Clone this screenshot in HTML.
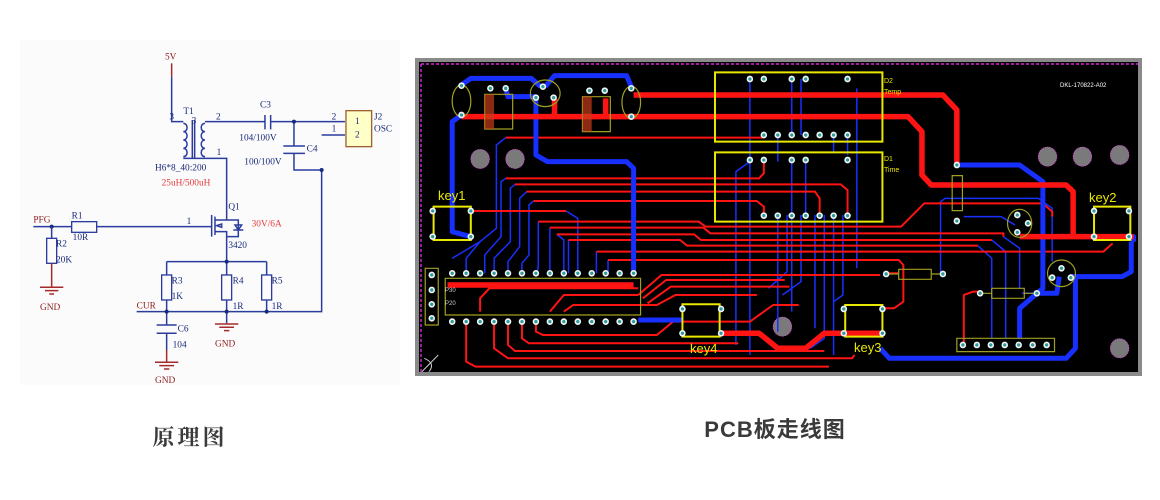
<!DOCTYPE html>
<html><head><meta charset="utf-8"><style>
html,body{margin:0;padding:0;background:#fff;width:1160px;height:500px;overflow:hidden}
svg{display:block}
.w{fill:none;stroke:#2b3c9e;stroke-width:4.5}
.r{fill:none;stroke:#a52a2a;stroke-width:4.5}
.st text{font-family:"Liberation Serif",serif;font-size:28px;fill:#1a2a7a}
.lb{fill:#8b1a1a!important}
.rd{fill:#e83a3a!important}
.pc *{vector-effect:non-scaling-stroke}
.R{fill:none;stroke:#ff1414;stroke-width:2}
.RT{fill:none;stroke:#ff1414;stroke-width:5.5;stroke-linejoin:round}
.B{fill:none;stroke:#1830ff;stroke-width:1.5}
.BT{fill:none;stroke:#1830ff;stroke-width:5;stroke-linejoin:round}
.Y{fill:none;stroke:#e8e800;stroke-width:2}
.YT{fill:none;stroke:#a0a020;stroke-width:1.2}
.pt text{font-family:"Liberation Sans",sans-serif;fill:#e8e800}
</style></head><body>
<svg width="1160" height="500" viewBox="0 0 1160 500" xmlns="http://www.w3.org/2000/svg">
<defs>
<g id="p"><ellipse cx="0" cy="0" rx="7" ry="10" fill="#f0f4f4"/><ellipse cx="0" cy="0" rx="3.5" ry="5" fill="#2a9a9a"/></g>
<g id="h"><ellipse cx="0" cy="0" rx="20" ry="29" fill="#7a7a7a" stroke="#ff40ff" stroke-width="1.5" stroke-dasharray="3 2"/></g>
</defs>
<rect x="20" y="40" width="380" height="345" fill="#fbfbfb"/>
<!-- schematic -->
<g class="st" transform="translate(20,40) scale(0.3333)">
<path class="r" d="M455 70V110"/>
<path class="w" d="M455 110V245H490"/>
<path class="w" d="M490 250c15 0 15 25 0 25c15 0 15 25 0 25c15 0 15 25 0 25c15 0 15 25 0 25"/>
<path class="w" d="M555 250c-15 0 -15 25 0 25c-15 0 -15 25 0 25c-15 0 -15 25 0 25c-15 0 -15 25 0 25"/>
<path class="w" d="M517 240V355M524 240V355M490 355H620V525M555 245H735M752 245H975M735 225V268M752 225V268M822 245V318M790 318H855M790 340H855M822 340V390H905M905 285H975M905 390V815H440M620 590V665M440 665H740M440 665V705M620 665V705M740 665V705M440 780V815M620 780V850M740 780V815M350 815H440M440 815V855M410 855H470M410 880H470M440 880V930"/>
<path class="w" d="M40 560H155M230 560H575M575 525V590M585 530V585M585 540H620V525M585 575H620V590M620 540H655V590H620M645 555L655 570L665 555ZM640 570H670M590 557L605 552V562Z"/>
<circle cx="822" cy="245" r="6" fill="#1a2a7a"/><circle cx="905" cy="390" r="6" fill="#1a2a7a"/><circle cx="95" cy="560" r="6" fill="#1a2a7a"/><circle cx="620" cy="665" r="6" fill="#1a2a7a"/><circle cx="440" cy="815" r="6" fill="#1a2a7a"/><circle cx="620" cy="815" r="6" fill="#1a2a7a"/><circle cx="740" cy="815" r="6" fill="#1a2a7a"/>
<rect x="155" y="545" width="75" height="32" fill="none" stroke="#2b3c9e" stroke-width="4"/>
<rect x="80" y="595" width="30" height="75" fill="none" stroke="#2b3c9e" stroke-width="4"/>
<rect x="425" y="705" width="30" height="75" fill="none" stroke="#2b3c9e" stroke-width="4"/>
<rect x="605" y="705" width="30" height="75" fill="none" stroke="#2b3c9e" stroke-width="4"/>
<rect x="725" y="705" width="30" height="75" fill="none" stroke="#2b3c9e" stroke-width="4"/>
<path class="w" d="M95 560V595"/>
<path class="r" d="M95 670V740M60 742H130M75 752H115M88 762H102M620 850V852M585 852H655M598 862H642M612 872H628M440 930V965M405 967H475M418 977H462M432 987H448"/>
<rect x="978" y="212" width="77" height="108" fill="#ffffc8" stroke="#a06030" stroke-width="4"/>
<text x="435" y="58" class="lb">5V</text>
<text x="448" y="238">3</text><text x="490" y="222">T1</text><text x="515" y="250">3</text><text x="588" y="238">2</text><text x="590" y="345">1</text>
<text x="720" y="202">C3</text><text x="658" y="302">104/100V</text><text x="860" y="335">C4</text><text x="673" y="374">100/100V</text>
<text x="935" y="238">2</text><text x="935" y="275">1</text><text x="1005" y="252">1</text><text x="1005" y="292">2</text><text x="1062" y="238">J2</text><text x="1062" y="275">OSC</text>
<text x="405" y="392">H6*8_40:200</text><text x="425" y="437" class="rd">25uH/500uH</text>
<text x="40" y="548" class="lb">PFG</text><text x="155" y="535">R1</text><text x="158" y="600">10R</text><text x="108" y="620">R2</text><text x="108" y="667">20K</text>
<text x="500" y="552">1</text><text x="625" y="508">Q1</text><text x="695" y="560" class="rd">30V/6A</text><text x="625" y="624">3420</text>
<text x="455" y="730">R3</text><text x="455" y="777">1K</text><text x="638" y="730">R4</text><text x="638" y="807">1R</text><text x="755" y="730">R5</text><text x="755" y="807">1R</text>
<text x="350" y="805" class="lb">CUR</text><text x="473" y="875">C6</text><text x="458" y="922">104</text>
<text x="60" y="810" class="lb">GND</text><text x="585" y="920" class="lb">GND</text><text x="405" y="1029" class="lb">GND</text>
</g>
<!-- PCB -->
<rect x="415" y="58" width="727" height="318" fill="#8a8a8a"/>
<rect x="419" y="62" width="719" height="310" fill="#000"/>
<path d="M421 64V372M421 64H1138" stroke="#ff30ff" stroke-width="1.2" stroke-dasharray="3 2" fill="none"/>
<g class="pc" transform="translate(415,55) scale(0.4651,0.3333)">
<use href="#h" x="140" y="312"/><use href="#h" x="215" y="312"/><use href="#h" x="1360" y="305"/><use href="#h" x="1435" y="305"/><use href="#h" x="1515" y="300"/><use href="#h" x="790" y="815"/><use href="#h" x="1515" y="880"/>
<path class="B" d="M720 72V900M780 240V320M810 72V240M810 315V770M830 72V240M840 315V480M900 240V290M930 240V300M950 100V330M950 315V640M720 320L690 350V870M780 480V830M800 480V650L760 700M830 480V680L790 720M860 480V820M880 480V850L850 880M900 480V900M920 480V720L900 740"/>
<path class="B" d="M195 248L175 270V520L140 560L110 610V655M195 370L185 380V545L150 600V655M215 388L205 400V560L170 610V655M240 410L225 430V575L200 620V655M255 438L245 450V600L230 625V655M265 500V640L260 655M290 518V655M305 538L320 555V655M330 555V655M325 468L350 490V655M390 590V655M415 615V655M80 610L140 560"/>
<path class="B" d="M1130 655V440L1140 430H1340L1370 460V620M1180 485H1260L1290 510M1210 572L1240 610V850M1240 555L1270 590V850M1265 545L1300 580V700M1305 715H1330"/>
<path class="R" d="M195 248H750M195 370H740L750 355V320M215 388H915L930 405V485M240 410H860L870 430V485M255 438H735L750 455V485M120 468H325M265 500H610L625 515H1045L1095 445H1350L1370 470V485M290 518H620L635 535H1265V545M305 538H600L615 555H1240M330 555H570L585 572H1210M390 590H1480L1500 565M415 615H1040L1050 630V740L1030 760H1005M1010 655H1040M480 720L530 660H1000M490 730L540 675H795M500 745L550 695H805M290 770L320 720H480M140 770V730L160 700H480M320 770L340 750H520L560 720H735M110 800V920L130 935H890M200 800V870L215 888H880M260 800V830L275 840H520L555 800H720L770 750H825M230 800V850L245 865H695M170 800V880L200 910H940L945 900M1180 870V720L1200 710H1215"/>
<path class="BT" d="M100 180L80 200V530L120 545M260 130V300L285 320H455L470 340V655M100 90L120 70H250L270 95M195 100L200 125H260M280 95L300 62H455L465 95M480 795H575M1165 330H1300L1350 380V700L1300 760V850M1000 880L1020 910H1400L1420 880V670M1460 545H1545V560M1540 560V650L1520 665H1410M1385 665L1380 715L1330 715"/>
<path class="RT" d="M470 120H1135L1165 165V330M100 185H1060L1090 230V360L1110 390H1400L1415 410V545H1545M660 835H740L780 880H840L880 835H1000M300 130V185M410 130V185M70 690H470M1300 545H1415"/>
<rect class="Y" x="645" y="52" width="360" height="208"/><rect class="Y" x="645" y="292" width="360" height="208"/>
<rect class="Y" x="40" y="455" width="80" height="100"/><rect class="Y" x="1460" y="455" width="78" height="100"/><rect class="Y" x="575" y="748" width="80" height="97"/><rect class="Y" x="925" y="750" width="80" height="95"/>
<rect class="YT" x="65" y="670" width="420" height="110"/><rect class="YT" x="150" y="118" width="60" height="104"/><rect class="YT" x="360" y="125" width="60" height="105"/>
<path d="M150 118H170V222H150Z" fill="#c83a1a" opacity="0.7"/><path d="M360 125H380V230H360Z" fill="#c83a1a" opacity="0.7"/>
<ellipse class="YT" cx="100" cy="138" rx="20" ry="48"/><ellipse class="YT" cx="465" cy="142" rx="20" ry="48"/><ellipse class="YT" cx="280" cy="115" rx="32" ry="40"/>
<ellipse class="YT" cx="1300" cy="505" rx="26" ry="42"/><ellipse class="YT" cx="1390" cy="655" rx="30" ry="40"/>
<rect class="YT" x="1155" y="362" width="22" height="105"/><rect class="YT" x="1040" y="643" width="70" height="30"/><rect class="YT" x="1240" y="700" width="70" height="30"/>
<path class="YT" d="M1015 657H1040M1110 657H1135M1215 715H1240M1310 715H1335"/>
<rect class="YT" x="1165" y="850" width="210" height="40"/><rect class="YT" x="22" y="640" width="28" height="170"/>
<use href="#p" x="100" y="92"/><use href="#p" x="100" y="180"/><use href="#p" x="465" y="100"/><use href="#p" x="465" y="185"/><use href="#p" x="162" y="100"/><use href="#p" x="195" y="100"/><use href="#p" x="375" y="107"/><use href="#p" x="408" y="107"/><use href="#p" x="275" y="95"/><use href="#p" x="260" y="128"/><use href="#p" x="298" y="128"/>
<use href="#p" x="720" y="72"/><use href="#p" x="750" y="72"/><use href="#p" x="810" y="72"/><use href="#p" x="840" y="72"/><use href="#p" x="930" y="72"/>
<use href="#p" x="750" y="240"/><use href="#p" x="780" y="240"/><use href="#p" x="810" y="240"/><use href="#p" x="840" y="240"/><use href="#p" x="870" y="240"/><use href="#p" x="900" y="240"/><use href="#p" x="930" y="240"/>
<use href="#p" x="720" y="315"/><use href="#p" x="750" y="315"/><use href="#p" x="810" y="315"/><use href="#p" x="840" y="315"/><use href="#p" x="930" y="315"/>
<use href="#p" x="750" y="482"/><use href="#p" x="780" y="482"/><use href="#p" x="810" y="482"/><use href="#p" x="840" y="482"/><use href="#p" x="870" y="482"/><use href="#p" x="900" y="482"/><use href="#p" x="930" y="482"/>
<use href="#p" x="80" y="655"/><use href="#p" x="110" y="655"/><use href="#p" x="140" y="655"/><use href="#p" x="170" y="655"/><use href="#p" x="200" y="655"/><use href="#p" x="230" y="655"/><use href="#p" x="260" y="655"/><use href="#p" x="290" y="655"/><use href="#p" x="320" y="655"/><use href="#p" x="350" y="655"/><use href="#p" x="380" y="655"/><use href="#p" x="410" y="655"/><use href="#p" x="440" y="655"/><use href="#p" x="470" y="655"/>
<use href="#p" x="80" y="800"/><use href="#p" x="110" y="800"/><use href="#p" x="140" y="800"/><use href="#p" x="170" y="800"/><use href="#p" x="200" y="800"/><use href="#p" x="230" y="800"/><use href="#p" x="260" y="800"/><use href="#p" x="290" y="800"/><use href="#p" x="320" y="800"/><use href="#p" x="350" y="800"/><use href="#p" x="380" y="800"/><use href="#p" x="410" y="800"/><use href="#p" x="440" y="800"/><use href="#p" x="470" y="800"/>
<use href="#p" x="38" y="468"/><use href="#p" x="120" y="468"/><use href="#p" x="38" y="545"/><use href="#p" x="120" y="545"/>
<use href="#p" x="1460" y="468"/><use href="#p" x="1535" y="468"/><use href="#p" x="1460" y="545"/><use href="#p" x="1535" y="545"/>
<use href="#p" x="575" y="762"/><use href="#p" x="658" y="762"/><use href="#p" x="575" y="835"/><use href="#p" x="658" y="835"/>
<use href="#p" x="922" y="762"/><use href="#p" x="1005" y="762"/><use href="#p" x="922" y="835"/><use href="#p" x="1005" y="835"/>
<use href="#p" x="1165" y="330"/><use href="#p" x="1165" y="498"/><use href="#p" x="1013" y="657"/><use href="#p" x="1135" y="657"/><use href="#p" x="1215" y="715"/><use href="#p" x="1337" y="715"/>
<use href="#p" x="1295" y="480"/><use href="#p" x="1318" y="505"/><use href="#p" x="1295" y="532"/><use href="#p" x="1390" y="640"/><use href="#p" x="1370" y="668"/><use href="#p" x="1410" y="668"/>
<use href="#p" x="1178" y="870"/><use href="#p" x="1208" y="870"/><use href="#p" x="1238" y="870"/><use href="#p" x="1268" y="870"/><use href="#p" x="1298" y="870"/><use href="#p" x="1328" y="870"/><use href="#p" x="1358" y="870"/>
<use href="#p" x="36" y="660"/><use href="#p" x="36" y="705"/><use href="#p" x="36" y="748"/><use href="#p" x="36" y="790"/>
<path d="M15 950L50 900M20 910Q45 925 30 950" stroke="#ccc" fill="none"/>
</g>
<g class="pt">
<text x="438" y="200" font-size="13">key1</text><text x="1089" y="202" font-size="13">key2</text><text x="690" y="353" font-size="13">key4</text><text x="854" y="352" font-size="13">key3</text>
<text x="884" y="83" font-size="7">D2</text><text x="884" y="94" font-size="7">Temp</text><text x="884" y="161" font-size="7">D1</text><text x="884" y="172" font-size="7">Time</text>
<text x="1060" y="87" font-size="6" style="fill:#fff">DKL-170822-A02</text>
<text x="445" y="292" font-size="6" style="fill:#ccc">P30</text><text x="445" y="305" font-size="6" style="fill:#ccc">P20</text>
</g>
<text x="190" y="445" text-anchor="middle" font-family="'Liberation Serif','Noto Serif CJK SC',serif" font-weight="bold" font-size="22" fill="#3a3a3a" letter-spacing="3">原理图</text>
<text x="775" y="437" text-anchor="middle" font-family="'Liberation Sans','Noto Sans CJK SC',sans-serif" font-weight="bold" font-size="22" fill="#3a3a3a" letter-spacing="1">PCB板走线图</text>
</svg>
</body></html>
